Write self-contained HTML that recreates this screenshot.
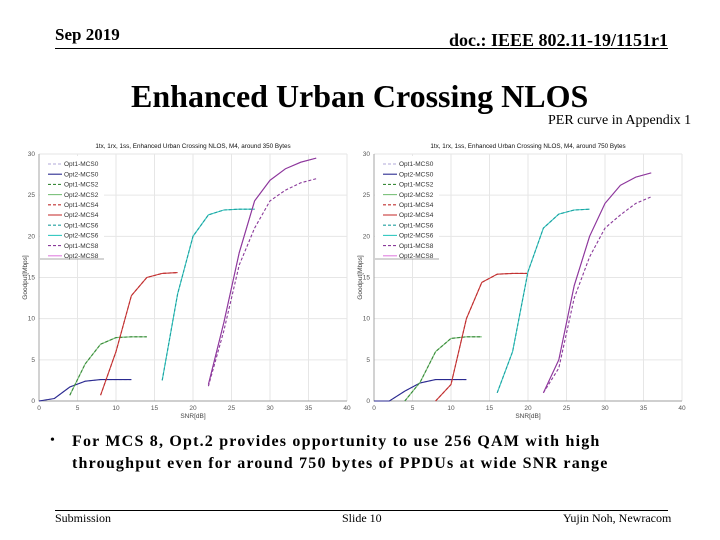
<!DOCTYPE html>
<html><head><meta charset="utf-8"><style>
body{margin:0;width:720px;height:540px;background:#fff;position:relative;overflow:hidden;font-family:"Liberation Serif",serif}
.t{position:absolute;white-space:nowrap;color:#000}
</style></head><body>
<div class="t" style="left:55px;top:25px;font-size:17px;font-weight:bold">Sep 2019</div>
<div class="t" style="left:449px;top:30px;font-size:18px;font-weight:bold">doc.: IEEE 802.11-19/1151r1</div>
<div style="position:absolute;left:55px;top:48px;width:613px;height:1px;background:#000"></div>
<div class="t" style="left:131px;top:78px;font-size:32px;font-weight:bold">Enhanced Urban Crossing NLOS</div>
<div class="t" style="left:548px;top:113px;font-size:14px">PER curve in Appendix 1</div>
<svg id="svg" width="720" height="540" style="position:absolute;left:0;top:0"></svg>
<div class="t" style="left:50px;top:433px;font-size:14px">•</div>
<div class="t" style="left:72px;top:431px;font-size:16px;font-weight:bold;line-height:22px;letter-spacing:1.2px">For MCS 8, Opt.2 provides opportunity to use 256 QAM with high<br>throughput even for around 750 bytes of PPDUs at wide SNR range</div>
<div style="position:absolute;left:55px;top:510px;width:613px;height:1px;background:#000"></div>
<div class="t" style="left:55px;top:511px;font-size:12px">Submission</div>
<div class="t" style="left:342px;top:511px;font-size:12px">Slide 10</div>
<div class="t" style="left:563px;top:511px;font-size:12px">Yujin Noh, Newracom</div>
<script>
const xTicks=[0,5,10,15,20,25,30,35,40];
const yTicks=[0,5,10,15,20,25,30];
const titles=["1tx, 1rx, 1ss, Enhanced Urban Crossing NLOS, M4, around 350 Bytes","1tx, 1rx, 1ss, Enhanced Urban Crossing NLOS, M4, around 750 Bytes"];
const legendNames=["Opt1-MCS0","Opt2-MCS0","Opt1-MCS2","Opt2-MCS2","Opt1-MCS4","Opt2-MCS4","Opt1-MCS6","Opt2-MCS6","Opt1-MCS8","Opt2-MCS8"];
const colors=["#b0a8d8","#2a2a90","#3a8a3a","#7ac07a","#c03030","#c83a3a","#20a0a0","#30c8c0","#8a3a9a","#e080e0"];
const snr0=[0,2,4,6,8,10,12];
const snr2=[4,6,8,10,12,14];
const snr4a=[8,10,12,14,16,18];
const snr4b=[8,10,12,14,16,18,20];
const snr6=[16,18,20,22,24,26,28];
const snr8=[22,24,26,28,30,32,34,36];
// chart A (350 bytes)
const a_mcs0=[0,0.3,1.7,2.4,2.6,2.6,2.6];
const a_mcs2=[0.7,4.5,6.9,7.7,7.8,7.8];
const a_mcs4=[0.7,6,12.8,15,15.5,15.6];
const a_mcs6=[2.5,13,20,22.6,23.2,23.3,23.3];
const a_opt1mcs8=[1.8,8.5,16.5,21,24.3,25.6,26.5,27];
const a_opt2mcs8=[2,9.5,18,24.3,26.8,28.2,29,29.5];
// chart B (750 bytes)
const b_mcs0=[0,0,1.2,2.2,2.6,2.6,2.6];
const b_mcs2=[0,2.3,6,7.6,7.8,7.8];
const b_mcs4=[0,2,10,14.4,15.4,15.5,15.5];
const b_mcs6=[1,6,15.7,21,22.7,23.2,23.3];
const b_opt1mcs8=[1,4,12.5,17.5,21,22.6,24,24.8];
const b_opt2mcs8=[1,5,14,20,24,26.2,27.2,27.7];

const NS="http://www.w3.org/2000/svg";
const svg=document.getElementById('svg');
function mk(tag,attrs,parent){const e=document.createElementNS(NS,tag);for(const k in attrs)e.setAttribute(k,attrs[k]);(parent||svg).appendChild(e);return e;}

function chart(x0,title,series,key){
  const L=x0,R=x0+308,T=154,B=401;
  const xs=v=>L+(v/40)*(R-L), ys=v=>B-(v/30)*(B-T);
  const g=mk('g',{});
  
  
  xTicks.forEach(t=>{const l=mk('line',{x1:xs(t),x2:xs(t),y1:T,y2:B,stroke:'#e6e6e6','stroke-width':1},g);
    const tx=mk('text',{x:xs(t),y:B+9,'font-size':6.5,'text-anchor':'middle',fill:'#555','font-family':'Liberation Sans'},g);tx.textContent=t;});
  yTicks.forEach(t=>{const l=mk('line',{x1:L,x2:R,y1:ys(t),y2:ys(t),stroke:'#e6e6e6','stroke-width':1},g);
    const tx=mk('text',{x:L-4,y:ys(t)+2,'font-size':6.5,'text-anchor':'end',fill:'#555','font-family':'Liberation Sans'},g);tx.textContent=t;});
  const ax=mk('path',{d:`M${L},${T}V${B}H${R}`,stroke:'#888',fill:'none','stroke-width':0.7},g);
  const tt=mk('text',{x:(L+R)/2,y:T-6,'font-size':6.3,'text-anchor':'middle',fill:'#111','font-family':'Liberation Sans'},g);tt.textContent=title;
  const xl=mk('text',{x:(L+R)/2,y:B+17,'font-size':6.5,'text-anchor':'middle',fill:'#444','font-family':'Liberation Sans'},g);xl.textContent='SNR[dB]';
  const yl=mk('text',{x:0,y:0,'font-size':6.5,'text-anchor':'middle',fill:'#444','font-family':'Liberation Sans',transform:`translate(${L-12},${(T+B)/2}) rotate(-90)`},g);yl.textContent='Goodput[Mbps]';
  series.forEach((s,i)=>{
    const d=s.x.map((v,j)=>(j?'L':'M')+xs(v).toFixed(1)+','+ys(s.y[j]).toFixed(1)).join('');
    const p=mk('path',{d,fill:'none',stroke:colors[s.c],'stroke-width':1.1,'stroke-dasharray':s.dash?'3,2':'none'},g);
    
    
  });
  const lg=mk('g',{},g);
  
  
  mk('rect',{x:L+1,y:T+2,width:64,height:103,fill:'#fff',stroke:'none'},lg);
  mk('line',{x1:L+1,x2:L+65,y1:T+105,y2:T+105,stroke:'#555','stroke-width':0.6},lg);
  legendNames.forEach((n,i)=>{
    const y=T+10+i*10.2;
    const ln=mk('line',{x1:L+9,x2:L+23,y1:y,y2:y,stroke:colors[i],'stroke-width':1.1,'stroke-dasharray':i%2==0?'3,2':'none'},lg);
    
    const t=mk('text',{x:L+25,y:y+2.2,'font-size':6.5,fill:'#333','font-family':'Liberation Sans'},lg);t.textContent=n;
    
  });
}
chart(39,titles[0],[
 {x:snr0,y:a_mcs0,c:0,dash:true},{x:snr0,y:a_mcs0,c:1},
 {x:snr2,y:a_mcs2,c:3},{x:snr2,y:a_mcs2,c:2,dash:true},
 {x:snr4a,y:a_mcs4,c:5},{x:snr4a,y:a_mcs4,c:4,dash:true},
 {x:snr6,y:a_mcs6,c:7},{x:snr6,y:a_mcs6,c:6,dash:true},
 {x:snr8,y:a_opt1mcs8,c:8,dash:true},{x:snr8,y:a_opt2mcs8,c:9},{x:snr8,y:a_opt2mcs8,c:8}
],'350-bytes');
chart(374,titles[1],[
 {x:snr0,y:b_mcs0,c:0,dash:true},{x:snr0,y:b_mcs0,c:1},
 {x:snr2,y:b_mcs2,c:3},{x:snr2,y:b_mcs2,c:2,dash:true},
 {x:snr4b,y:b_mcs4,c:5},{x:snr4b,y:b_mcs4,c:4,dash:true},
 {x:snr6,y:b_mcs6,c:7},{x:snr6,y:b_mcs6,c:6,dash:true},
 {x:snr8,y:b_opt1mcs8,c:8,dash:true},{x:snr8,y:b_opt2mcs8,c:9},{x:snr8,y:b_opt2mcs8,c:8}
],'750-bytes');
</script>
</body></html>
